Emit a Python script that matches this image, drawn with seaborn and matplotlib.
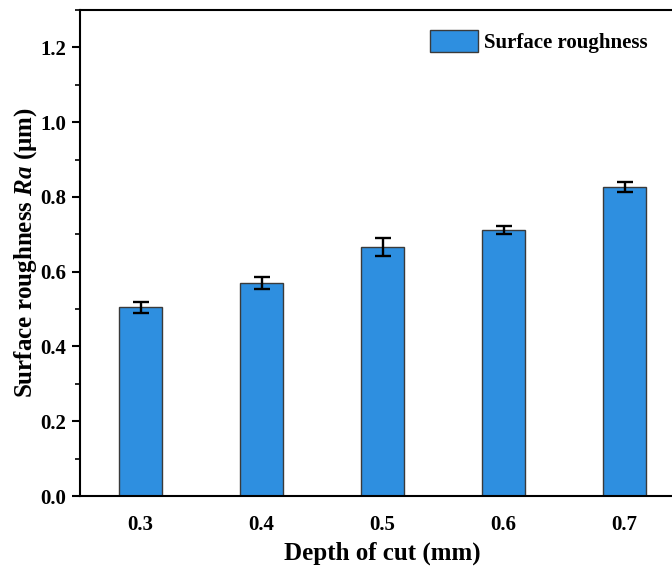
import matplotlib
matplotlib.use("Agg")
import matplotlib.pyplot as plt
from matplotlib.ticker import MultipleLocator
import pandas as pd
import seaborn as sns

# data
depth_labels = ["0.3", "0.4", "0.5", "0.6", "0.7"]
roughness = [0.505, 0.570, 0.665, 0.712, 0.827]
roughness_err = [0.015, 0.016, 0.024, 0.010, 0.013]

BAR_COLOR = "#2E8FE0"

sns.set_theme(style="white")
plt.rcParams["font.family"] = ["Liberation Serif", "DejaVu Serif"]
plt.rcParams["font.weight"] = "bold"
plt.rcParams["mathtext.fontset"] = "custom"
plt.rcParams["mathtext.it"] = "Liberation Serif:italic:bold"
plt.rcParams["mathtext.rm"] = "Liberation Serif:bold"
plt.rcParams["text.color"] = "black"
plt.rcParams["axes.labelcolor"] = "black"
plt.rcParams["xtick.color"] = "black"
plt.rcParams["ytick.color"] = "black"

df = pd.DataFrame({"depth": depth_labels, "ra": roughness})

fig = plt.figure(figsize=(6.72, 5.70), dpi=100)
ax = fig.add_axes([80 / 672, 1 - 496 / 570, 605 / 672, 486 / 570])

sns.barplot(data=df, x="depth", y="ra", color=BAR_COLOR, saturation=1,
            width=0.36, edgecolor="#3a3a3a", linewidth=1.0,
            label="Surface roughness", ax=ax)

# error bars on top of the seaborn bars
xpos = range(len(depth_labels))
ax.errorbar(xpos, roughness, yerr=roughness_err, fmt="none", ecolor="black",
            elinewidth=1.7, capsize=5.5, capthick=1.7, zorder=5)

ax.set_xlim(-0.5, 4.5)
ax.set_ylim(0, 1.3)
ax.yaxis.set_major_locator(MultipleLocator(0.2))
ax.yaxis.set_minor_locator(MultipleLocator(0.1))
ax.set_yticks([0.0, 0.2, 0.4, 0.6, 0.8, 1.0, 1.2])
ax.set_yticklabels(["0.0", "0.2", "0.4", "0.6", "0.8", "1.0", "1.2"])

for side in ["left", "bottom", "top", "right"]:
    ax.spines[side].set_linewidth(1.5)
    ax.spines[side].set_color("black")

ax.tick_params(axis="y", which="major", direction="out", length=6, width=1.5,
               left=True, labelsize=15, pad=4, colors="black")
ax.tick_params(axis="y", which="minor", direction="out", length=3.5, width=1.2,
               left=True, colors="black")
ax.tick_params(axis="x", which="both", bottom=False, labelsize=15, pad=8,
               colors="black")
for lbl in ax.get_xticklabels() + ax.get_yticklabels():
    lbl.set_fontweight("bold")

ax.set_xlabel("Depth of cut (mm)", fontsize=18, fontweight="bold",
              color="black")
ax.set_ylabel(r"Surface roughness $Ra$ ($\mathrm{\mu}$m)", fontsize=18,
              fontweight="bold", color="black")
ax.xaxis.label.set(va="center", ha="center")
ax.yaxis.label.set(va="center", ha="center", rotation_mode="default")
ax.xaxis.set_label_coords(0.5, (496 - 553) / 486)
ax.yaxis.set_label_coords((26 - 80) / 605, 0.5)

leg = ax.legend(loc="upper left", bbox_to_anchor=(0.548, 0.997), frameon=False,
                prop={"size": 15, "weight": "bold"}, handlelength=2.3,
                handleheight=1.2, handletextpad=0.3)
for t in leg.get_texts():
    t.set_color("black")

fig.savefig("out.png", dpi=100)
plt.close(fig)
